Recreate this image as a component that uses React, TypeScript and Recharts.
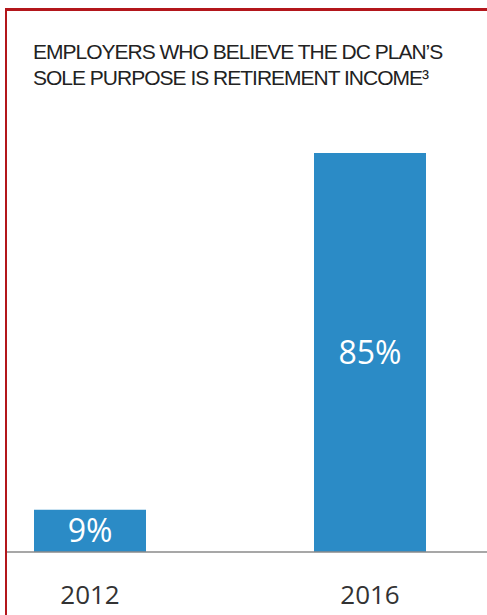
import { BarChart, Bar, XAxis, YAxis, LabelList } from "recharts";

const years = ["2012", "2016"];
const shares = [9, 85];
const titleLines = [
  "EMPLOYERS WHO BELIEVE THE DC PLAN\u2019S",
  "SOLE PURPOSE IS RETIREMENT INCOME\u00B3",
];

const data = years.map((year, i) => ({ year, share: shares[i] }));

const font = "'Open Sans', sans-serif";
const titleFont = "'Liberation Sans', Arial, sans-serif";

export default function App() {
  return (
    <div
      style={{
        position: "absolute",
        left: 0,
        top: 0,
        width: 487,
        height: 615,
        background: "#fff",
        overflow: "hidden",
      }}
    >
      <BarChart
        width={487}
        height={615}
        data={data}
        margin={{ top: 153, right: -23, bottom: 23, left: -50 }}
        barSize={112}
      >
        <XAxis
          dataKey="year"
          height={40}
          axisLine={{ stroke: "#8a8a8a", strokeWidth: 1.5 }}
          tickLine={false}
          tickMargin={28}
          tick={{ fontSize: 26, fill: "#333", fontFamily: font }}
        />
        <YAxis hide domain={[0, 85]} />
        <Bar dataKey="share" fill="#2b8bc6" isAnimationActive={false}>
          <LabelList
            dataKey="share"
            position="center"
            formatter={(v: number) => `${v}%`}
            style={{ fontSize: 32, fill: "#fff", fontFamily: font }}
          />
        </Bar>
      </BarChart>
      <svg
        width={487}
        height={110}
        style={{ position: "absolute", left: 0, top: 0 }}
      >
        {titleLines.map((line, i) => (
          <text
            key={i}
            x={33}
            y={59 + i * 26}
            fontSize={21}
            fontFamily={titleFont}
            fill="#222"
            letterSpacing={-1}
          >
            {line}
          </text>
        ))}
      </svg>
      {/* blank margin left of the frame */}
      <div
        style={{
          position: "absolute",
          left: 0,
          top: 0,
          width: 5,
          height: 615,
          background: "#fff",
        }}
      />
      <div
        style={{
          position: "absolute",
          left: 5,
          top: 8,
          width: 490,
          height: 620,
          borderTop: "3px solid #b3161b",
          borderLeft: "2.5px solid #b3161b",
        }}
      />
    </div>
  );
}
